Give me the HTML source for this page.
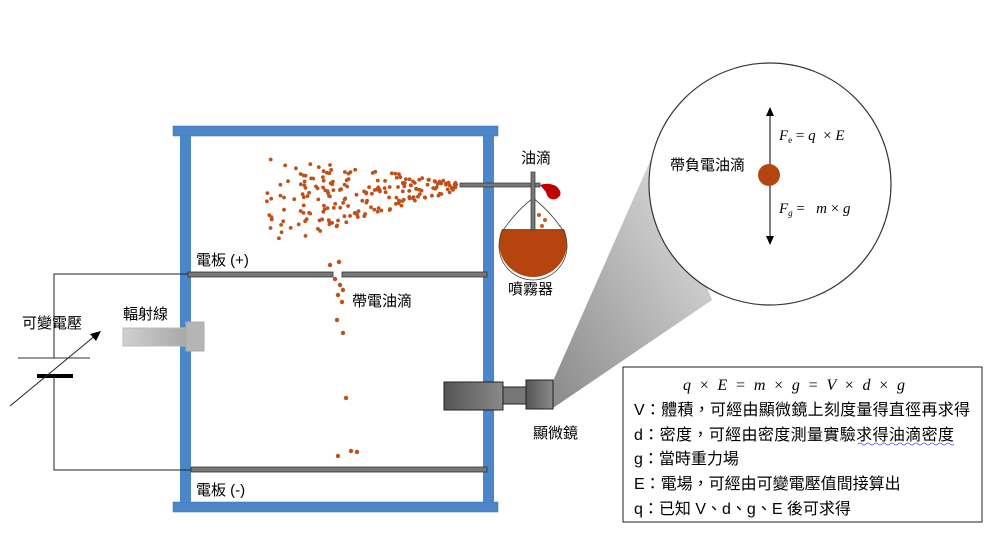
<!DOCTYPE html>
<html><head><meta charset="utf-8"><style>
body{margin:0;background:#fff;width:992px;height:539px;overflow:hidden}
svg{display:block}
text{font-family:"Liberation Sans","Noto Sans CJK TC",sans-serif;fill:#000}
.m{font-family:"Liberation Serif",serif;font-style:italic}
</style></head><body>
<svg id="s" width="992" height="539" viewBox="0 0 992 539" xmlns="http://www.w3.org/2000/svg">
<defs>
<linearGradient id="cone" x1="0" y1="1" x2="1" y2="0"><stop offset="0" stop-color="#8a8a8a"/><stop offset="1" stop-color="#e6e6e6"/></linearGradient>
<linearGradient id="gr" x1="0" y1="0" x2="1" y2="0"><stop offset="0" stop-color="#d0d0d0"/><stop offset="1" stop-color="#a8a8a8"/></linearGradient>
<linearGradient id="mg" x1="0" y1="0" x2="1" y2="0"><stop offset="0" stop-color="#555"/><stop offset="1" stop-color="#8a8a8a"/></linearGradient>
<clipPath id="fc"><rect x="490" y="229" width="90" height="60"/></clipPath>
</defs>
<polygon points="553,381 553,408 712,300 655,150" fill="url(#cone)"/>
<circle cx="770" cy="184" r="121" fill="#fff" stroke="#333" stroke-width="1.2"/>
<rect x="173" y="126" width="325" height="10" fill="#4a86c8" stroke="#3a6fa8" stroke-width="0.5"/>
<rect x="173" y="502" width="325" height="10" fill="#4a86c8" stroke="#3a6fa8" stroke-width="0.5"/>
<rect x="180" y="136" width="11" height="366" fill="#4a86c8"/>
<rect x="483" y="136" width="11" height="366" fill="#4a86c8"/>
<rect x="188" y="272" width="145" height="5" fill="#777" stroke="#333" stroke-width="0.8"/>
<rect x="342" y="272" width="145" height="5" fill="#777" stroke="#333" stroke-width="0.8"/>
<rect x="191" y="467" width="296" height="5" fill="#777" stroke="#333" stroke-width="0.8"/>
<polyline points="188,274 54,274 54,358" fill="none" stroke="#222" stroke-width="1"/>
<polyline points="54,376 54,470 191,470" fill="none" stroke="#222" stroke-width="1"/>
<line x1="18" y1="358" x2="90" y2="358" stroke="#333" stroke-width="1"/>
<rect x="37" y="374" width="36" height="4" fill="#000"/>
<line x1="10" y1="406" x2="96" y2="335" stroke="#222" stroke-width="1"/>
<polygon points="101,331 90,334 96,341" fill="#000"/>
<rect x="123" y="328" width="63" height="18" fill="url(#gr)" stroke="#bbb"/>
<rect x="186" y="322" width="18" height="29" fill="#b5b5b5" stroke="#aaa"/>
<circle cx="533" cy="243" r="34" fill="#b5440f" clip-path="url(#fc)"/>
<path d="M533,198 Q515,212 502,232 A34,34 0 1,0 564,232 Q551,212 533,198" fill="none" stroke="#444" stroke-width="0.8"/>
<rect x="460" y="183" width="80" height="4" fill="#777" stroke="#333" stroke-width="0.7"/>
<rect x="531" y="172" width="4" height="58" fill="#777" stroke="#333" stroke-width="0.7"/>
<path d="M540,185 Q548,182 556,186 Q565,194 556,199 Q548,201 546,192 Z" fill="#c00000"/>
<circle cx="539" cy="215" r="2" fill="#c85a1c"/><circle cx="545" cy="220" r="2" fill="#c85a1c"/><circle cx="542" cy="226" r="2" fill="#c85a1c"/>
<rect x="444" y="382" width="59" height="28" fill="url(#mg)" stroke="#222"/>
<rect x="503" y="387" width="23" height="17" fill="#777" stroke="#222"/>
<rect x="526" y="380" width="27" height="29" fill="url(#mg)" stroke="#222"/>
<g id="dots" fill="#c0501a"></g>
<line x1="770" y1="112" x2="770" y2="240" stroke="#000" stroke-width="1"/>
<polygon points="770,107 766,116 774,116" fill="#000"/>
<polygon points="770,245 766,236 774,236" fill="#000"/>
<circle cx="769" cy="175" r="11" fill="#b5440f"/>
<text x="670" y="170" font-size="15">帶負電油滴</text>
<text x="779" y="140" font-size="15" class="m" xml:space="preserve">F<tspan font-size="9" dy="3" font-style="normal">e</tspan><tspan dy="-3" font-style="normal"> = </tspan>q  <tspan font-style="normal">× </tspan>E</text>
<text x="779" y="213" font-size="15" class="m" xml:space="preserve">F<tspan font-size="9" dy="3">g</tspan><tspan dy="-3" font-style="normal"> =   </tspan>m <tspan font-style="normal">× </tspan>g</text>
<text x="521" y="163" font-size="15">油滴</text>
<text x="508" y="294" font-size="15">噴霧器</text>
<text x="352" y="306" font-size="15">帶電油滴</text>
<text x="196" y="265" font-size="15">電板 (+)</text>
<text x="196" y="495" font-size="15">電板 (-)</text>
<text x="123" y="319" font-size="15">輻射線</text>
<text x="22" y="328" font-size="15">可變電壓</text>
<text x="533" y="438" font-size="15">顯微鏡</text>
<rect x="623" y="367" width="359" height="155" fill="#fff" stroke="#222" stroke-width="1"/>
<text x="683" y="390" font-size="16" class="m" textLength="222" lengthAdjust="spacing">q <tspan font-style="normal">×</tspan> E <tspan font-style="normal">=</tspan> m <tspan font-style="normal">×</tspan> g <tspan font-style="normal">=</tspan> V <tspan font-style="normal">×</tspan> d <tspan font-style="normal">×</tspan> g</text>
<g font-size="16">
<text x="634" y="415" textLength="336">V：體積，可經由顯微鏡上刻度量得直徑再求得</text>
<text x="634" y="440" textLength="320">d：密度，可經由密度測量實驗求得油滴密度</text>
<text x="634" y="464">g：當時重力場</text>
<text x="634" y="489">E：電場，可經由可變電壓值間接算出</text>
<text x="634" y="514">q：已知 V、d、g、E 後可求得</text>
</g>
<path d="M858,444 q2,-2 4,0 t4,0 t4,0 t4,0 t4,0 t4,0 t4,0 t4,0 t4,0 t4,0 t4,0 t4,0 t4,0 t4,0 t4,0 t4,0 t4,0 t4,0 t4,0 t4,0 t4,0 t4,0 t4,0 t4,0" fill="none" stroke="#4a4af0" stroke-width="0.8"/>
</svg>
<script>
(function(){
var g=document.getElementById('dots'),ns='http://www.w3.org/2000/svg';
var s=12345;function r(){s=(s*1103515245+12345)%2147483648;return s/2147483648;}
function d(x,y,rr){var c=document.createElementNS(ns,'circle');c.setAttribute('cx',x.toFixed(1));c.setAttribute('cy',y.toFixed(1));c.setAttribute('r',rr||1.9);g.appendChild(c);}
for(var i=0;i<210;i++){
 var t=r();
 var x=458-t*192;
 var half=4+t*42;
 var cy=186+t*16;
 var y=cy+(r()*2-1)*half;
 d(x,y,1.9);
}
var f=[[335,279],[340,285],[343,290],[338,295],[342,302],[337,320],[343,333],[346,398],[351,451],[357,452],[338,456],[330,265],[339,262]];
f.forEach(function(p){d(p[0],p[1],2.2);});
})();
</script>
</body></html>
